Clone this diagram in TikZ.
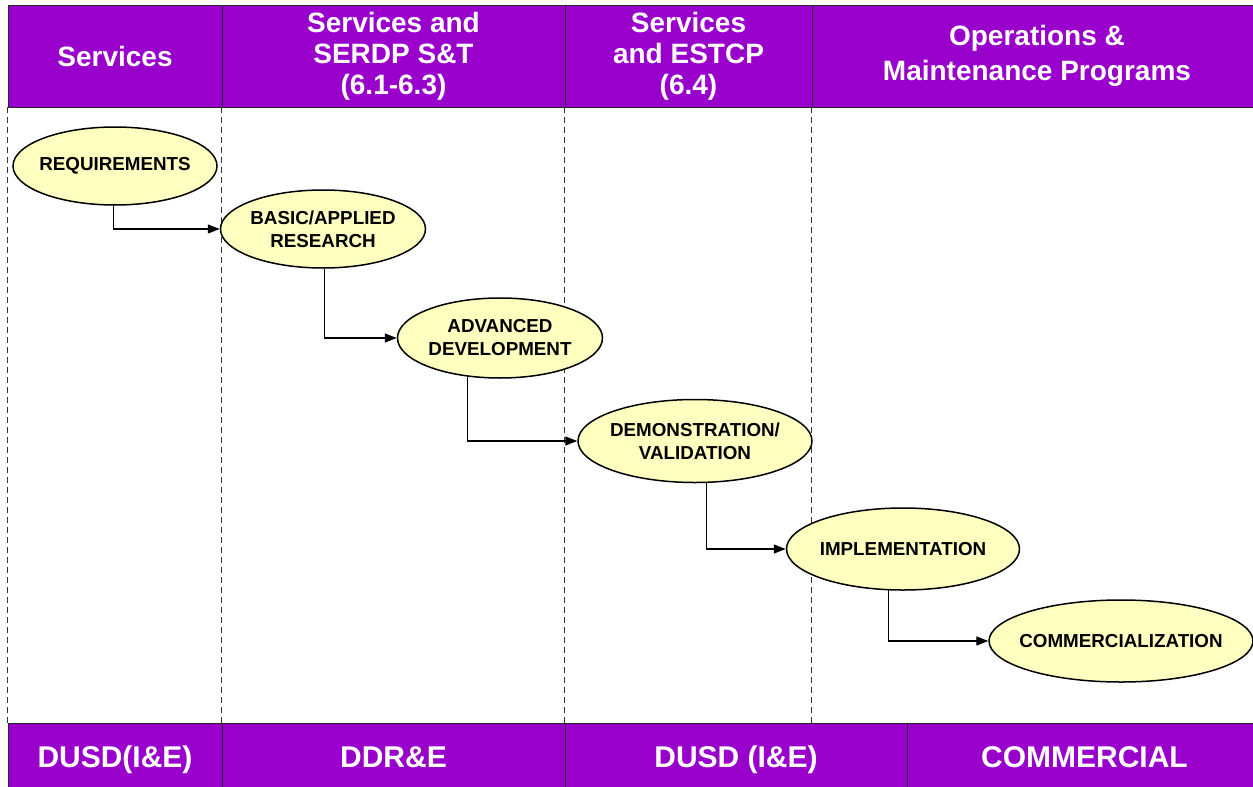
\documentclass[tikz,border=0pt]{standalone}
\usepackage{fontspec}
\setmainfont{Liberation Sans}
\usetikzlibrary{shapes.geometric,arrows.meta}
\definecolor{bandpurple}{RGB}{153,0,204}
\definecolor{stepyellow}{RGB}{255,255,191}
\tikzset{
	band/.style={draw=black!85, line width=0.8pt, fill=bandpurple, text=white, inner sep=0pt, align=center},
	headfont/.style={font=\fontsize{28}{31}\selectfont\bfseries},
	footfont/.style={font=\fontsize{30}{32}\selectfont\bfseries, text height=21.5pt, text depth=0pt},
	stage/.style={ellipse, draw=black, line width=1.5pt, fill=stepyellow, inner xsep=-20pt, inner ysep=0pt, align=center, font=\fontsize{18.8}{23}\selectfont\bfseries},
	lane/.style={black!80, line width=1pt, dash pattern=on 6pt off 4pt},
	flow/.style={line width=1.3pt, -{Triangle[length=12pt,width=9pt]}}
}

\begin{document}
\begin{tikzpicture}[x=1pt,y=-1pt]
			%%%%% FRAME %%%%%
			\useasboundingbox (0,0) rectangle (1253,787);
			
			%%%%% HEADER %%%%%
			\node[band, headfont, minimum width=214pt, minimum height=102pt] (h1) at (115,56) {Services};
			\node[band, headfont, minimum width=343pt, minimum height=102pt] (h2) at (393.5,56) {Services and\\SERDP S\&T\\(6.1-6.3)};
			\node[band, headfont, minimum width=247pt, minimum height=102pt] (h3) at (688.5,56) {Services\\and ESTCP\\(6.4)};
			\node[band, headfont, minimum width=450pt, minimum height=102pt] (h4) at (1037,56) {Operations \&\\[4pt]Maintenance Programs};
			
			%%%%% FOOTER %%%%%
			\node[band, footfont, minimum width=214pt, minimum height=68pt] (b1) at (115,757) {DUSD(I\&E)};
			\node[band, footfont, minimum width=343pt, minimum height=68pt] (b2) at (393.5,757) {DDR\&E};
			\node[band, footfont, minimum width=342pt, minimum height=68pt] (b3) at (736,757) {DUSD (I\&E)};
			\node[band, footfont, minimum width=355pt, minimum height=68pt] (b4) at (1084.5,757) {COMMERCIAL};
			
			%%%%% LANES %%%%%
			\draw[lane] (h1.south west) -- (b1.north west);
			\draw[lane] (h2.south west) -- (b2.north west);
			\draw[lane] (h3.south west) -- (b3.north west);
			\draw[lane] (h4.south west) -- (h4.south west |- b4.north);
			
			%%%%% STAGES %%%%%
			\node[stage, minimum width=204pt, minimum height=78pt] (req) at (115,166) {REQUIREMENTS};
			\node[stage, minimum width=205pt, minimum height=78pt] (basic) at (323,229) {BASIC/APPLIED\\RESEARCH};
			\node[stage, minimum width=205pt, minimum height=80pt] (adv) at (500,338) {ADVANCED\\DEVELOPMENT};
			\node[stage, minimum width=234pt, minimum height=83pt] (demo) at (695,441) {DEMONSTRATION/\\VALIDATION};
			\node[stage, minimum width=233pt, minimum height=82pt] (impl) at (903,549) {IMPLEMENTATION};
			\node[stage, minimum width=264pt, minimum height=82pt] (comm) at (1121,641) {COMMERCIALIZATION};
			
			%%%%% FLOW %%%%%
			\draw[flow] (req.268) |- (basic.west);
			\draw[flow] (basic.272) |- (adv.west);
			\draw[flow] (adv.230) |- (demo.west);
			\draw[flow] (demo.285) |- (impl.west);
			\draw[flow] (impl.251) |- (comm.west);
			
\end{tikzpicture}
\end{document}
